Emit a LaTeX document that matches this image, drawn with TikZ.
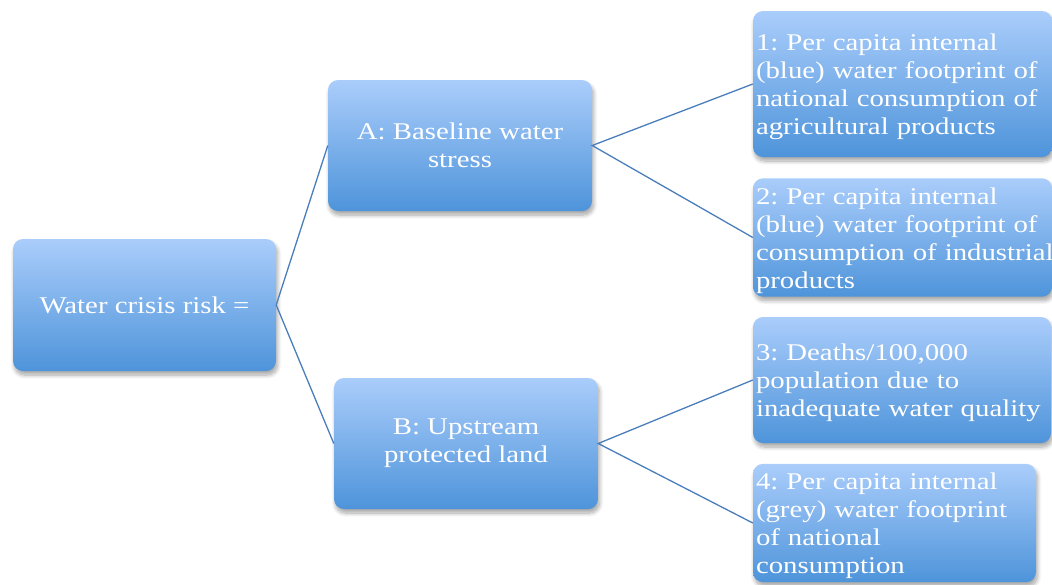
\documentclass[tikz,border=0pt]{standalone}
\usepackage{fontspec}
\setmainfont{Liberation Serif}[FakeStretch=1.2]
\usetikzlibrary{shadows.blur}
\definecolor{boxtop}{HTML}{AACDFB}
\definecolor{boxbot}{HTML}{4E94DA}
\definecolor{linkc}{HTML}{4A7EBB}
\frenchspacing
\tikzset{
  box/.style={rounded corners=10pt, top color=boxtop, bottom color=boxbot, draw=none,
    text=white, font=\fontsize{24}{28}\selectfont,
    blur shadow={shadow xshift=1.5pt, shadow yshift=-4pt, shadow opacity=35, shadow blur steps=8, shadow blur radius=4pt}},
  mid/.style={box, align=center},
  leaf/.style={box, align=left, inner xsep=3pt, execute at begin node={\hyphenpenalty=10000\hbadness=10000\hfuzz=50pt\rule{0pt}{22.5pt}}},
  link/.style={draw=linkc, line width=1.3pt}
}
\begin{document}
\begin{tikzpicture}[x=1pt,y=-1pt]
\useasboundingbox (0,0) rectangle (1052,584);
\node[mid, minimum width=263pt, minimum height=132pt] (root) at (144.5,305) {Water crisis risk =};
\node[mid, minimum width=264pt, minimum height=131pt] (A) at (460,145.5) {A: Baseline water\\stress};
\node[mid, minimum width=264pt, minimum height=131pt] (B) at (466,443.5) {B: Upstream\\protected land};
\node[leaf, minimum width=299pt, minimum height=146pt, text width=293pt] (l1) at (902.5,84) {1: Per capita internal\\(blue) water footprint of\\national consumption of\\agricultural products};
\node[leaf, minimum width=299pt, minimum height=115pt, text width=293pt] (l2) at (902.5,237.5) {2: Per capita internal\\(blue) water footprint of\\\mbox{consumption of industrial}\\products};
\node[leaf, minimum width=298pt, minimum height=126pt, text width=292pt] (l3) at (902,380) {3: Deaths/100,000\\population due to\\inadequate water quality};
\node[leaf, minimum width=283pt, minimum height=118pt, text width=277pt] (l4) at (894.5,523) {4: Per capita internal\\(grey) water footprint\\of national\\consumption};
\draw[link] (A.west) -- (root.east) -- (B.west);
\draw[link] (l1.west) -- (A.east) -- (l2.west);
\draw[link] (l3.west) -- (B.east) -- (l4.west);
\end{tikzpicture}
\end{document}
